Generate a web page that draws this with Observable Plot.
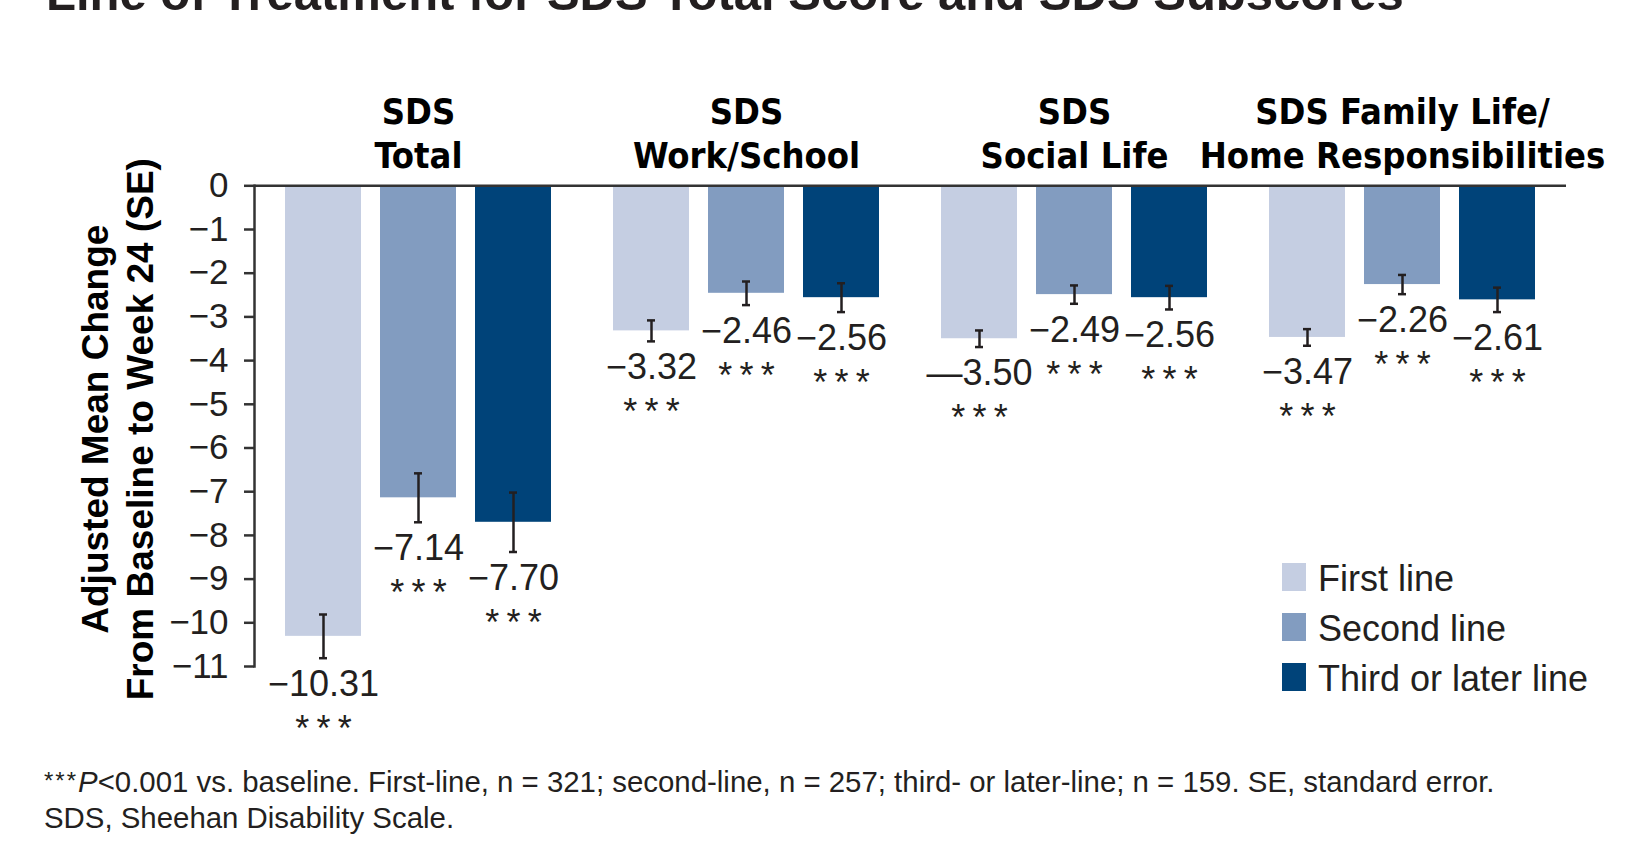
<!DOCTYPE html>
<html>
<head>
<meta charset="utf-8">
<script src="https://cdn.jsdelivr.net/npm/d3@7"></script>
<script src="https://cdn.jsdelivr.net/npm/@observablehq/plot@0.6"></script>
<style>
  html, body { margin: 0; padding: 0; background: #fff; overflow: hidden; }
  #wrap { position: relative; width: 1641px; height: 843px; overflow: hidden; background: #fff; }
  #title { position: absolute; left: 46px; top: -30.7px; font: bold 49px "Liberation Sans", Arial, sans-serif; line-height: 49px; color: #231f20; white-space: nowrap; }
  #chart { position: absolute; left: 0; top: 40px; }
  #footer { position: absolute; left: 44px; top: 763px; font: 29.4px "Liberation Sans", Arial, sans-serif; line-height: 36px; color: #231f20; white-space: nowrap; }
  #footer .st { letter-spacing: 2px; font-size: 24px; vertical-align: 3px; }
  .leg-sw { position: absolute; width: 24px; height: 28px; }
  .leg-tx { position: absolute; font: 36px "Liberation Sans", Arial, sans-serif; line-height: 36px; color: #231f20; white-space: nowrap; }
</style>
</head>
<body>
<div id="wrap">
  <div id="title">Line of Treatment for SDS Total Score and SDS Subscores</div>
  <div id="chart"></div>
  <div id="legend"></div>
  <div id="footer"><span class="st">***</span><i>P</i>&lt;0.001 vs. baseline. First-line, n = 321; second-line, n = 257; third- or later-line; n = 159. SE, standard error.<br>SDS, Sheehan Disability Scale.</div>
</div>
<script>
// ---- data ----
const categories = ["SDS\nTotal", "SDS\nWork/School", "SDS\nSocial Life", "SDS Family Life/\nHome Responsibilities"];
const lines = ["First line", "Second line", "Third or later line"];
const colors = ["#c5cee2", "#829cc0", "#004379"];

const firstLine  = [-10.31, -3.32, -3.50, -3.47];
const secondLine = [-7.14, -2.46, -2.49, -2.26];
const thirdLine  = [-7.70, -2.56, -2.56, -2.61];

const firstSE  = [0.50, 0.24, 0.19, 0.19];
const secondSE = [0.56, 0.27, 0.21, 0.22];
const thirdSE  = [0.68, 0.33, 0.27, 0.28];

const firstLabels  = ["\u221210.31", "\u22123.32", "\u20143.50", "\u22123.47"];
const secondLabels = ["\u22127.14", "\u22122.46", "\u22122.49", "\u22122.26"];
const thirdLabels  = ["\u22127.70", "\u22122.56", "\u22122.56", "\u22122.61"];

const significance = ["***", "***", "***", "***"];
const yTicks = [0, -1, -2, -3, -4, -5, -6, -7, -8, -9, -10, -11];
const yLabel = "Adjusted Mean Change\nFrom Baseline to Week 24 (SE)";

// ---- table ----
const seriesValues = [firstLine, secondLine, thirdLine];
const seriesSE = [firstSE, secondSE, thirdSE];
const seriesLabels = [firstLabels, secondLabels, thirdLabels];
const rows = [];
categories.forEach((c, ci) => {
  lines.forEach((l, li) => {
    rows.push({category: c, line: l, value: seriesValues[li][ci], se: seriesSE[li][ci],
               label: seriesLabels[li][ci], sig: significance[ci]});
  });
});

const numFont = "Liberation Sans, Arial, sans-serif";
const ink = "#231f20";

const chart = Plot.plot({
  width: 1641,
  height: 700,
  marginLeft: 252,
  marginRight: 74,
  marginTop: 145.3,
  marginBottom: 74,
  style: {fontFamily: numFont, background: "transparent", overflow: "visible"},
  fx: {domain: categories, padding: 0, axis: null},
  x: {domain: lines, paddingInner: 0.205, paddingOuter: 0.311, axis: null},
  y: {domain: [-11, 0], axis: null},
  color: {domain: lines, range: colors},
  marks: [
    Plot.barY(rows, {fx: "category", x: "line", y: "value", fill: "line"}),
    Plot.ruleY([0], {stroke: "#333", strokeWidth: 2.5}),
    Plot.ruleX(rows, {fx: "category", x: "line", y1: d => d.value - d.se, y2: d => d.value + d.se, stroke: ink, strokeWidth: 2.5}),
    Plot.tickY(rows, {fx: "category", x: "line", y: d => d.value - d.se, insetLeft: 34, insetRight: 34, stroke: ink, strokeWidth: 2.5}),
    Plot.tickY(rows, {fx: "category", x: "line", y: d => d.value + d.se, insetLeft: 34, insetRight: 34, stroke: ink, strokeWidth: 2.5}),
    Plot.frame({anchor: "left", facetAnchor: "left", stroke: "#333", strokeWidth: 2.5}),
    Plot.axisY({ticks: yTicks, tickSize: 10, tickPadding: 16, tickFormat: d3.format("d"), fontSize: 35, fill: ink, stroke: "#333", strokeWidth: 2.5, label: null}),
    Plot.text(rows, {fx: "category", x: "line", y: d => d.value - d.se, text: "label", dy: 38, lineAnchor: "bottom", fontSize: 36, fill: ink}),
    Plot.text(rows, {fx: "category", x: "line", y: d => d.value - d.se, text: d => d.sig.split("").join("\u2009"), dy: 83, lineAnchor: "bottom", fontSize: 36, fill: ink}),
    Plot.text(categories, {fx: d => d, text: d => d, frameAnchor: "top", dy: -18, lineAnchor: "bottom", lineHeight: 1.22, fontSize: 36, fontWeight: "bold", fontFamily: "Liberation Sans Narrow, DejaVu Sans Condensed, Arial Narrow, sans-serif", fill: "#000"}),
    Plot.text([yLabel], {fx: () => categories[0], text: d => d, frameAnchor: "left", textAnchor: "middle", rotate: -90, dx: -102, dy: 3, lineAnchor: "bottom", lineHeight: 1.19, fontSize: 37, fontWeight: "bold", fill: "#000"})
  ]
});
document.getElementById("chart").appendChild(chart);

// ---- legend ----
const legend = document.getElementById("legend");
lines.forEach((l, i) => {
  const top = 563 + i * 50;
  const sw = document.createElement("div");
  sw.className = "leg-sw";
  sw.style.left = "1282px";
  sw.style.top = top + "px";
  sw.style.background = colors[i];
  legend.appendChild(sw);
  const tx = document.createElement("div");
  tx.className = "leg-tx";
  tx.style.left = "1318px";
  tx.style.top = (top + 28 - 30) + "px";
  tx.textContent = l;
  legend.appendChild(tx);
});
</script>
</body>
</html>
